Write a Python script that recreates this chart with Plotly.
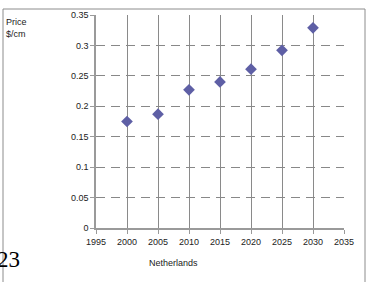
import plotly.graph_objects as go

years = [2000, 2005, 2010, 2015, 2020, 2025, 2030]
price = [0.175, 0.187, 0.227, 0.240, 0.261, 0.292, 0.329]

W, H = 367, 282
L, R, T, B = 96, 23, 15, 54
pw, ph = W - L - R, H - T - B

def px(x):
    return (x - L) / pw

def py(y):
    return (H - B - y) / ph

fig = go.Figure()
fig.add_trace(go.Scatter(
    x=years, y=price, mode="markers",
    marker=dict(symbol="diamond", size=9, color="#5e5fa5"),
    showlegend=False, hoverinfo="skip",
))

axis_font = dict(family="Liberation Sans, Arial, sans-serif", size=9, color="#222")

fig.update_xaxes(
    range=[1995, 2035], dtick=5, tick0=1995,
    showgrid=True, gridcolor="#8a8a8a", gridwidth=1,
    showline=True, linecolor="#9a9a9a", linewidth=1.5,
    ticks="outside", ticklen=4, tickcolor="#9a9a9a",
    tickfont=axis_font, zeroline=False, automargin=False,
)
fig.update_yaxes(
    range=[0, 0.35], dtick=0.05,
    showgrid=True, gridcolor="#888888", gridwidth=1, griddash="9px,6px",
    showline=True, linecolor="#9a9a9a", linewidth=1.5,
    ticks="outside", ticklen=4, tickcolor="#9a9a9a",
    tickfont=axis_font, zeroline=False, automargin=False,
)

fig.add_shape(type="rect", xref="paper", yref="paper",
              x0=px(3), x1=px(365), y0=py(300), y1=py(9),
              line=dict(color="#8c8c8c", width=1), layer="above")

fig.add_annotation(text="Price<br>$/cm", xref="paper", yref="paper",
                   x=px(4), y=py(15), xanchor="left", yanchor="top",
                   showarrow=False, align="left",
                   font=dict(family="Liberation Sans, Arial, sans-serif", size=9, color="#222"))
fig.add_annotation(text="Netherlands", xref="paper", yref="paper",
                   x=px(173), y=py(263), xanchor="center", yanchor="middle",
                   showarrow=False,
                   font=dict(family="Liberation Sans, Arial, sans-serif", size=9, color="#222"))
fig.add_annotation(text="23", xref="paper", yref="paper",
                   x=px(-5), y=py(259), xanchor="left", yanchor="middle",
                   showarrow=False,
                   font=dict(family="Liberation Serif, DejaVu Serif, serif", size=23, color="#000"))

fig.update_layout(
    width=W, height=H,
    margin=dict(l=L, r=R, t=T, b=B),
    paper_bgcolor="white", plot_bgcolor="white",
)

fig.write_html("out.html", config={"displayModeBar": False},
               post_script="document.body.style.margin='0';document.body.style.overflow='hidden';")
